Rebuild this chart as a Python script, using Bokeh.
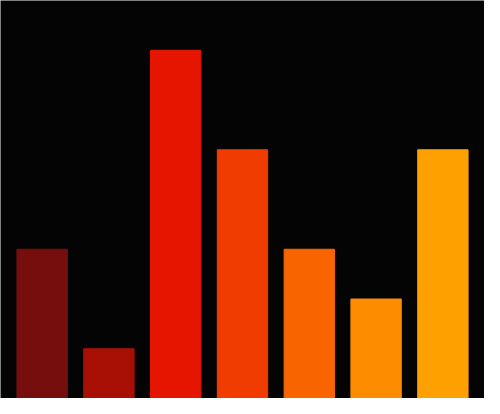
from bokeh.plotting import figure
from bokeh.models import ColumnDataSource, Range1d
from bokeh.embed import file_html
from bokeh.resources import INLINE

categories = [1, 2, 3, 4, 5, 6, 7]
values = [3, 1, 7, 5, 3, 2, 5]
colors = ["#760e0e", "#a81005", "#e61500", "#f03c00", "#f86400", "#fd8c00", "#fea000"]

BG = "#040404"

src = ColumnDataSource(dict(x=categories, top=values, color=colors))

p = figure(width=484, height=398, output_backend="svg", toolbar_location=None,
           x_range=Range1d(0.377, 7.623), y_range=Range1d(0, 8),
           min_border=0)
p.vbar(x="x", top="top", bottom=0, width=0.754, source=src,
       fill_color="color", line_color="color")
p.axis.visible = False
p.grid.visible = False
p.outline_line_color = None
p.background_fill_color = BG
p.border_fill_color = BG

html = file_html(p, INLINE)
html = html.replace("<body>", '<body style="background:%s">' % BG, 1)
open("out.html", "w").write(html)
